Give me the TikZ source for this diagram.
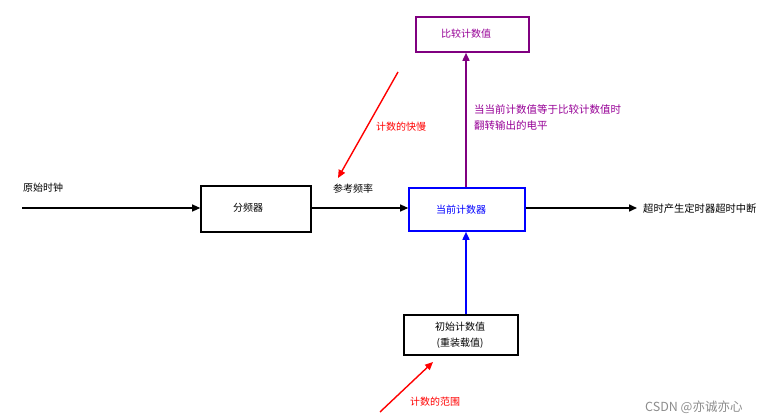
\documentclass[tikz,border=0pt]{standalone}
\usepackage{fontspec}
\setmainfont{Noto Sans CJK SC}
\usetikzlibrary{arrows.meta}
\definecolor{pur}{RGB}{128,0,128}
\definecolor{purtext}{RGB}{150,0,150}
\begin{document}
\begin{tikzpicture}[x=1pt,y=-1pt,
  box/.style={draw,line width=1.6pt,minimum width=110pt,minimum height=44pt,inner sep=0pt},
  lbl/.style={font=\fontsize{10}{12}\selectfont,inner sep=0pt},
  arr/.style={line width=1.1pt,-{Triangle[length=8pt,width=7pt]}}]
\useasboundingbox (0,0) rectangle (763,420);
\node[box,draw=pur,minimum width=113pt,minimum height=35pt] (cmp) at (472.5,34.5) {};
\node[lbl,text=purtext,anchor=west] at (441,34) {比较计数值};
\node[box,minimum width=110pt,minimum height=46pt] (div) at (256,209) {};
\node[lbl,anchor=west] at (233,208) {分频器};
\node[box,draw=blue,minimum width=116pt,minimum height=43pt] (cnt) at (467,209.5) {};
\node[lbl,text=blue,anchor=west] at (436,210) {当前计数器};
\node[box,minimum width=114pt,minimum height=40pt] (init) at (461,335) {};
\node[lbl,anchor=center] at (460,327) {初始计数值};
\node[lbl,anchor=center] at (460,343) {(重装载值)};
\coordinate (src) at (22,208);
\coordinate (dst) at (637,208);
\coordinate (r1s) at (398,72);
\coordinate (r1e) at (338,178);
\coordinate (r2s) at (380,412);
\coordinate (r2e) at (433,362);
\draw[arr] (src) -- (div.west |- src);
\draw[arr] (div.east |- src) -- (cnt.west |- src);
\draw[arr,line width=1.6pt] (cnt.east |- src) -- (dst);
\draw[arr,draw=pur,fill=pur,line width=1.6pt] (cnt.north -| 466,0) -- (cmp.south -| 466,0);
\draw[arr,draw=blue,line width=1.6pt] (init.north -| 466,0) -- (cnt.south -| 466,0);
\draw[arr,red,line width=1.4pt] (r1s) -- (r1e);
\draw[arr,red,line width=1.4pt] (r2s) -- (r2e);
\node[lbl,anchor=west] at (23,188) {原始时钟};
\node[lbl,anchor=west] at (333,189) {参考频率};
\node[lbl,text=red,anchor=west] at (376,127) {计数的快慢};
\node[lbl,text=purtext,anchor=west,font=\fontsize{10.5}{12}\selectfont] at (474,109) {当当前计数值等于比较计数值时};
\node[lbl,text=purtext,anchor=west,font=\fontsize{10.5}{12}\selectfont] at (474,125) {翻转输出的电平};
\node[lbl,anchor=west,font=\fontsize{10.3}{12}\selectfont] at (643,209) {超时产生定时器超时中断};
\node[lbl,text=red,anchor=west] at (410,402) {计数的范围};
\node[lbl,text=black!45,anchor=west,font=\fontsize{12.5}{14}\selectfont] at (645,407) {CSDN @亦诚亦心};
\end{tikzpicture}
\end{document}
